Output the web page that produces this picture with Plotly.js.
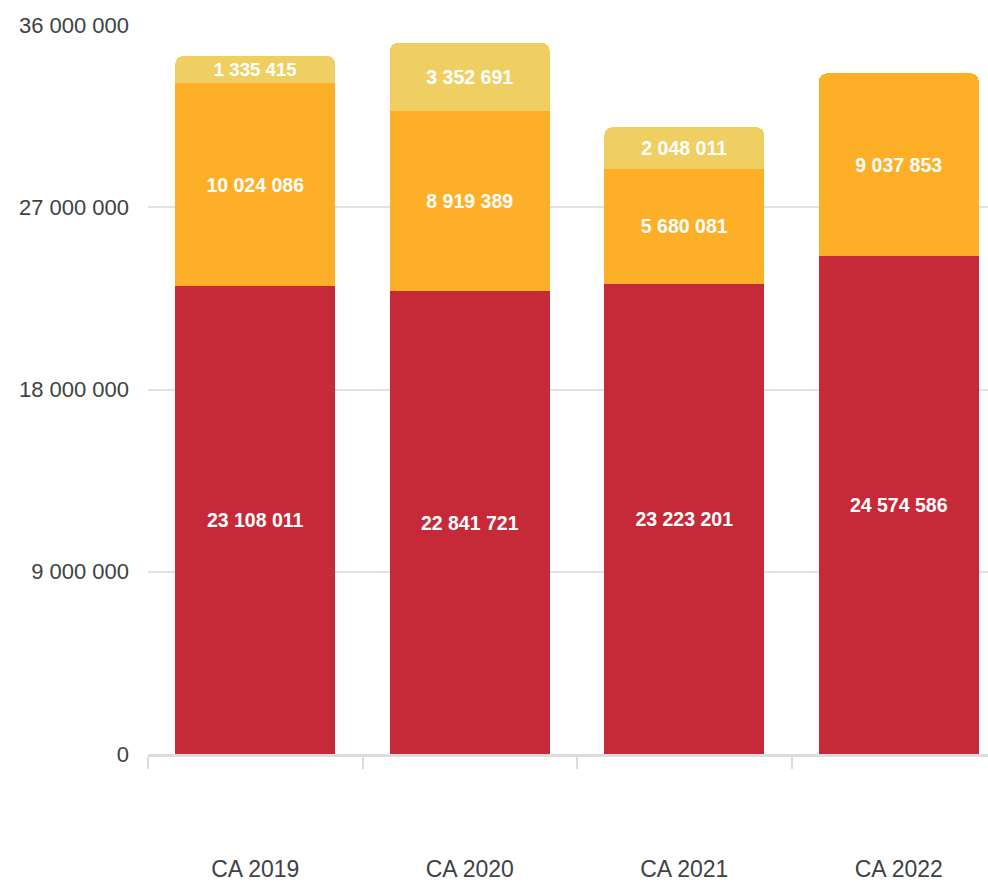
<!DOCTYPE html>
<html>
<head>
<meta charset="utf-8">
<script src="https://cdn.plot.ly/plotly-3.0.1.min.js"></script>
<style>
  html, body { margin: 0; padding: 0; background: #fff; }
  #myPlot { width: 988px; height: 882px; }
</style>
</head>
<body>
<div id="myPlot"></div>
<script>
/**
 * Data
 */
const categories = ["CA 2019", "CA 2020", "CA 2021", "CA 2022"];
const redValues = [23108011, 22841721, 23223201, 24574586];
const orangeValues = [10024086, 8919389, 5680081, 9037853];
const yellowValues = [1335415, 3352691, 2048011, null];
const yTicks = [0, 9000000, 18000000, 27000000, 36000000];

const colors = {
  red: "#c62a39",
  orange: "#fdb027",
  yellow: "#efcf62"
};

const barText = {
  family: "'Liberation Sans', Arial, sans-serif",
  size: 19.5,
  color: "#ffffff",
  weight: "bold"
};

const makeTrace = (values, color) => ({
  type: "bar",
  x: categories,
  y: values,
  marker: { color: color, line: { width: 0 } },
  texttemplate: "%{y:,}",
  textposition: "inside",
  insidetextanchor: "middle",
  constraintext: "none",
  textfont: barText,
  hoverinfo: "none"
});

const data = [
  makeTrace(redValues, colors.red),
  makeTrace(orangeValues, colors.orange),
  makeTrace(yellowValues, colors.yellow)
];

/**
 * Layout: the last category runs past the right edge, so the x range is cut short
 */
const layout = {
  width: 988,
  height: 882,
  margin: { l: 148, r: 0, t: 25, b: 128 },
  barmode: "stack",
  bargap: 0.254,
  barcornerradius: 8,
  separators: ". ",
  showlegend: false,
  paper_bgcolor: "#ffffff",
  plot_bgcolor: "#ffffff",
  font: { family: "'Liberation Sans', Arial, sans-serif", size: 22, color: "#3d4246" },
  xaxis: {
    type: "category",
    range: [-0.5, 3.416],
    showline: true,
    linecolor: "#dcdcdc",
    linewidth: 3,
    ticks: "outside",
    tickson: "boundaries",
    ticklen: 12,
    tickcolor: "#dcdcdc",
    tickwidth: 2,
    tickfont: { size: 23 },
    ticklabelstandoff: 92,
    showgrid: false,
    zeroline: false
  },
  yaxis: {
    range: [0, 36000000],
    tickvals: yTicks,
    tickformat: ",d",
    tickfont: { size: 22 },
    showgrid: true,
    gridcolor: "#e2e2e2",
    gridwidth: 2,
    zeroline: false,
    showline: false,
    ticks: "",
    ticklabelstandoff: 18
  }
};

Plotly.newPlot("myPlot", data, layout, { displayModeBar: false, staticPlot: true });
</script>
</body>
</html>
